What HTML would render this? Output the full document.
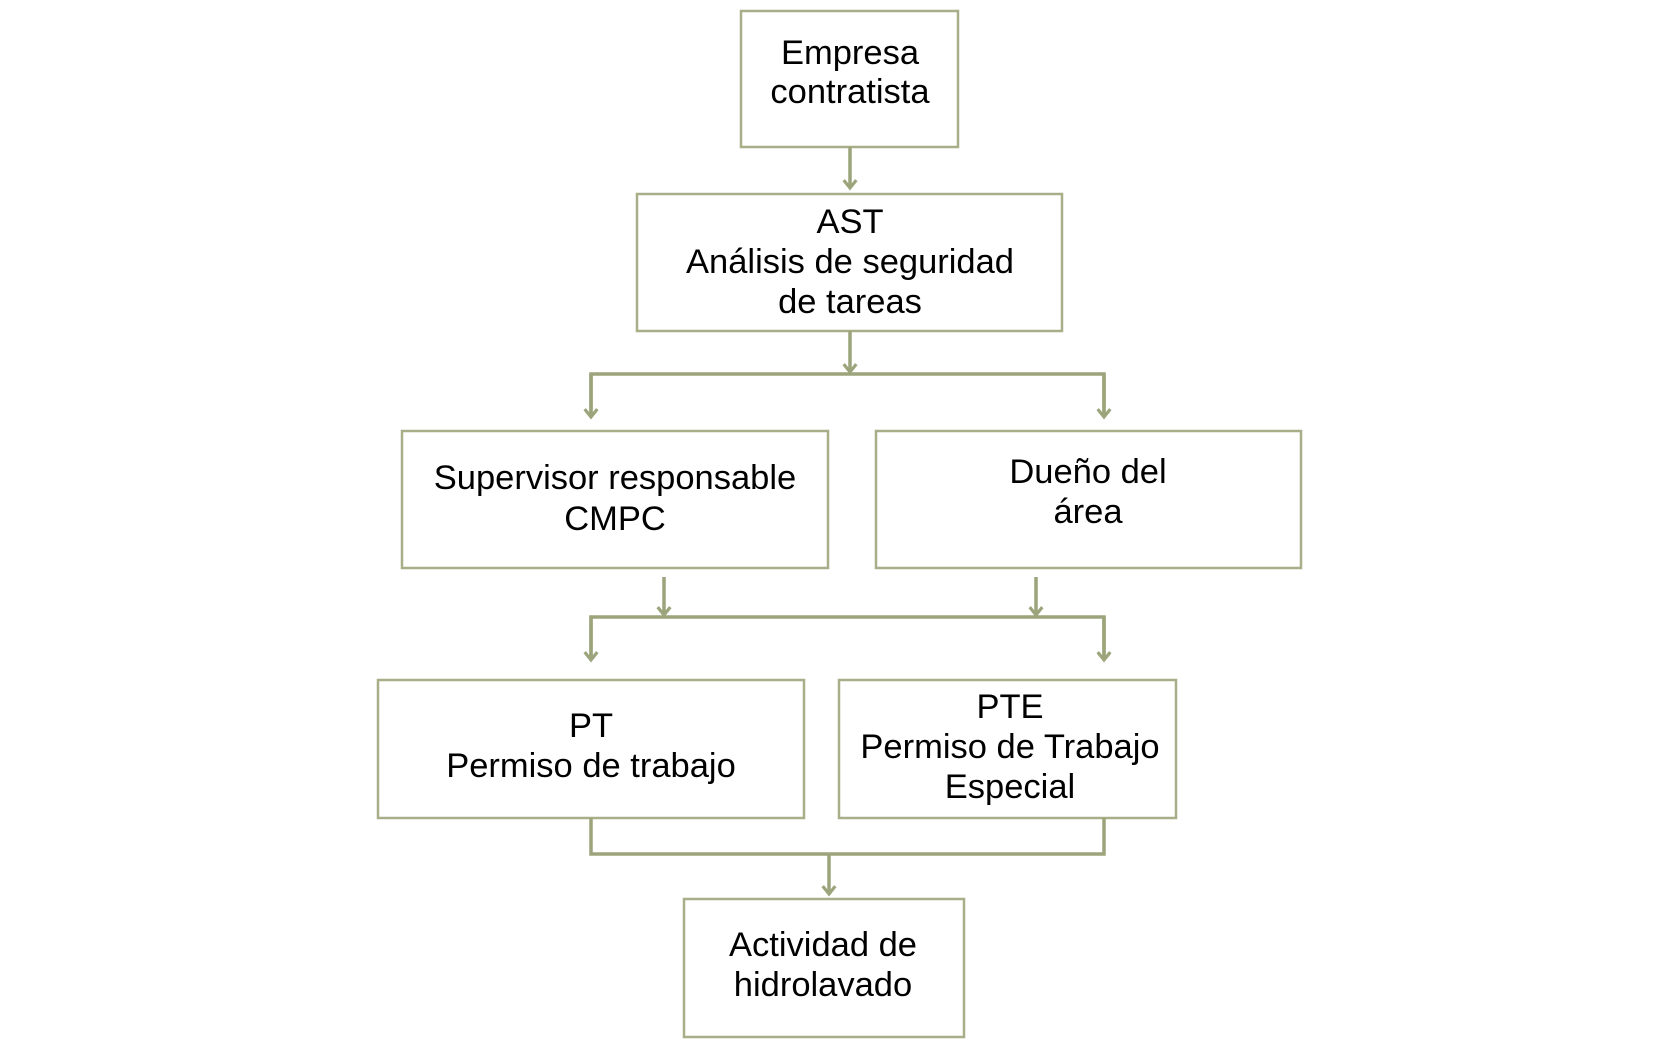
<!DOCTYPE html>
<html><head><meta charset="utf-8"><style>html,body{margin:0;padding:0;background:#fff;}svg{display:block}</style></head>
<body>
<svg width="1680" height="1054" viewBox="0 0 1680 1054" xmlns="http://www.w3.org/2000/svg">
<defs>
<marker id="a" viewBox="0 0 10 10" refX="8" refY="5" markerWidth="4.5" markerHeight="4.5" orient="auto" markerUnits="strokeWidth">
<path d="M3,1 L8,5 L3,9" fill="none" stroke="#9ba47a" stroke-width="2"/>
</marker>
</defs>
<g fill="#fff" stroke="#a7ae88" stroke-width="2.5">
<rect x="741" y="11" width="217" height="136"/>
<rect x="637" y="194" width="425" height="137"/>
<rect x="402" y="431" width="426" height="137"/>
<rect x="876" y="431" width="425" height="137"/>
<rect x="378" y="680" width="426" height="138"/>
<rect x="839" y="680" width="337" height="138"/>
<rect x="684" y="899" width="280" height="138"/>
</g>
<g fill="none" stroke="#9ba47a" stroke-width="3.5">
<path d="M850 147 V188" marker-end="url(#a)"/>
<path d="M850 331 V372" marker-end="url(#a)"/>
<path d="M591 417 V374 H1104 V417"/>
<path d="M591 374 V417" marker-end="url(#a)"/>
<path d="M1104 374 V417" marker-end="url(#a)"/>
<path d="M664 577 V615" marker-end="url(#a)"/>
<path d="M1036 577 V615" marker-end="url(#a)"/>
<path d="M591 660 V617 H1104 V660"/>
<path d="M591 617 V660" marker-end="url(#a)"/>
<path d="M1104 617 V660" marker-end="url(#a)"/>
<path d="M591 818 V854 H1104 V818"/>
<path d="M829 854 V894" marker-end="url(#a)"/>
</g>
<g font-family="'Liberation Sans', sans-serif" font-size="34.5" fill="#000" text-anchor="middle" dominant-baseline="central">
<text x="850" y="53">Empresa</text>
<text x="850" y="92">contratista</text>
<text x="850" y="222">AST</text>
<text x="850" y="262">Análisis de seguridad</text>
<text x="850" y="302">de tareas</text>
<text x="615" y="478">Supervisor responsable</text>
<text x="615" y="519">CMPC</text>
<text x="1088" y="472">Dueño del</text>
<text x="1088" y="512">área</text>
<text x="591" y="726">PT</text>
<text x="591" y="766">Permiso de trabajo</text>
<text x="1010" y="707">PTE</text>
<text x="1010" y="747">Permiso de Trabajo</text>
<text x="1010" y="787">Especial</text>
<text x="823" y="945">Actividad de</text>
<text x="823" y="985">hidrolavado</text>
</g>
</svg>
</body></html>
